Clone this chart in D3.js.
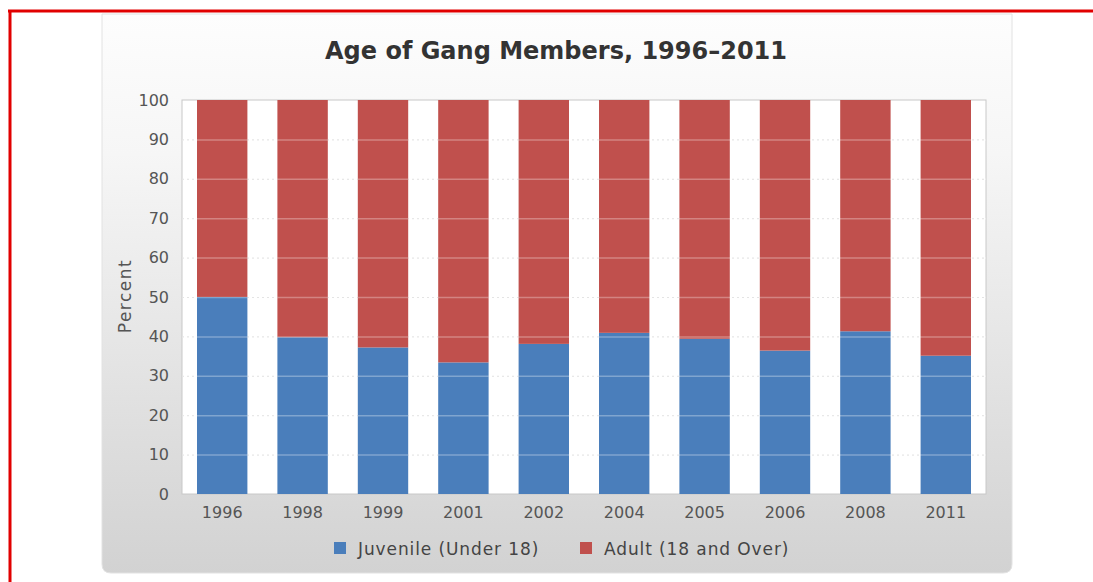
<!DOCTYPE html>
<html><head><meta charset="utf-8">
<script src="https://cdn.jsdelivr.net/npm/d3@7"></script>
<style>body{margin:0;background:#fff;}svg{display:block;}</style>
</head><body>
<svg id="c" width="1093" height="582"></svg>
<script>
const years = ["1996","1998","1999","2001","2002","2004","2005","2006","2008","2011"];
const juvenile = [50, 39.8, 37.2, 33.4, 38.1, 40.9, 39.4, 36.4, 41.3, 35.1];
const adult = juvenile.map(v => 100 - v);
const yTicks = [0,10,20,30,40,50,60,70,80,90,100];
const seriesNames = ["Juvenile (Under 18)", "Adult (18 and Over)"];
const colors = ["#4a7ebb", "#c0504d"];
const title = "Age of Gang Members, 1996\u20132011";

const svg = d3.select("#c");
const defs = svg.append("defs");
const g1 = defs.append("linearGradient").attr("id","bg").attr("x1",0).attr("y1",0).attr("x2",0).attr("y2",1);
g1.append("stop").attr("offset","0").attr("stop-color","#fdfdfd");
g1.append("stop").attr("offset","0.25").attr("stop-color","#f6f6f6");
g1.append("stop").attr("offset","1").attr("stop-color","#d2d2d2");

// red frame
svg.append("line").attr("x1",8).attr("x2",1093).attr("y1",11).attr("y2",11).attr("stroke","#e10000").attr("stroke-width",3);
svg.append("line").attr("x1",10).attr("x2",10).attr("y1",10).attr("y2",582).attr("stroke","#e10000").attr("stroke-width",3);

// panel
svg.append("path")
  .attr("d", "M102,14 H1012 V564 Q1012,573 1003,573 H111 Q102,573 102,564 Z")
  .attr("fill","url(#bg)").attr("stroke","#e2e2e2").attr("stroke-width",1);

const margin = {left:182, right:986, top:100, bottom:494};
const x = d3.scaleBand().domain(years).range([margin.left, margin.right]).paddingInner(30/80.4).paddingOuter(15/80.4);
const y = d3.scaleLinear().domain([0,100]).range([margin.bottom, margin.top]);

// plot bg
svg.append("rect").attr("x",margin.left).attr("y",margin.top).attr("width",margin.right-margin.left).attr("height",margin.bottom-margin.top)
  .attr("fill","#fff").attr("stroke","#c8c8c8");

// grid below
svg.append("g").selectAll("line").data(yTicks.slice(1,-1)).join("line")
  .attr("x1",margin.left).attr("x2",margin.right).attr("y1",d=>y(d)+0.5).attr("y2",d=>y(d)+0.5)
  .attr("stroke","#d8d8d8").attr("stroke-dasharray","2,3");

// stacked bars
const stackData = years.map((yr,i)=>({year:yr, juvenile:juvenile[i], adult:adult[i]}));
const stacked = d3.stack().keys(["juvenile","adult"])(stackData);
svg.append("g").selectAll("g").data(stacked).join("g").attr("fill",(d,i)=>colors[i])
  .selectAll("rect").data(d=>d).join("rect")
  .attr("x",d=>x(d.data.year)).attr("width",x.bandwidth())
  .attr("y",d=>y(d[1])).attr("height",d=>y(d[0])-y(d[1]));

// grid over bars
svg.append("g").selectAll("line").data(yTicks.slice(1,-1)).join("line")
  .attr("x1",margin.left).attr("x2",margin.right).attr("y1",d=>y(d)+0.5).attr("y2",d=>y(d)+0.5)
  .attr("stroke","#ffffff").attr("stroke-opacity",0.3).attr("stroke-width",1.5);

const ff = "DejaVu Sans, Verdana, sans-serif";
// y axis
const yAxis = d3.axisLeft(y).tickValues(yTicks).tickSize(0).tickPadding(13);
const ya = svg.append("g").attr("transform",`translate(${margin.left},0)`).call(yAxis);
ya.select(".domain").remove();
ya.selectAll("text").attr("font-family",ff).attr("font-size",16).attr("fill","#555");

// x axis
const xAxis = d3.axisBottom(x).tickSize(0).tickPadding(13);
const xa = svg.append("g").attr("transform",`translate(0,${margin.bottom})`).call(xAxis);
xa.select(".domain").remove();
xa.selectAll("text").attr("font-family",ff).attr("font-size",16).attr("fill","#555");

// y label
svg.append("text").attr("transform","translate(131,296) rotate(-90)").attr("text-anchor","middle")
  .attr("font-family",ff).attr("font-size",17).attr("fill","#555")
  .attr("letter-spacing",1.5).text("Percent");

// title
svg.append("text").attr("x",556).attr("y",59).attr("text-anchor","middle")
  .attr("font-family",ff).attr("font-weight","bold").attr("font-size",24).attr("fill","#333")
  .text(title);

// legend
const legX = [334, 580];
const lg = svg.append("g").selectAll("g").data(seriesNames).join("g").attr("transform",(d,i)=>`translate(${legX[i]},542)`);
lg.append("rect").attr("width",12).attr("height",12).attr("fill",(d,i)=>colors[i]);
lg.append("text").attr("x",24).attr("y",13).attr("font-family",ff).attr("font-size",17).attr("letter-spacing",0.9).attr("fill","#444").text(d=>d);
</script>
</body></html>
